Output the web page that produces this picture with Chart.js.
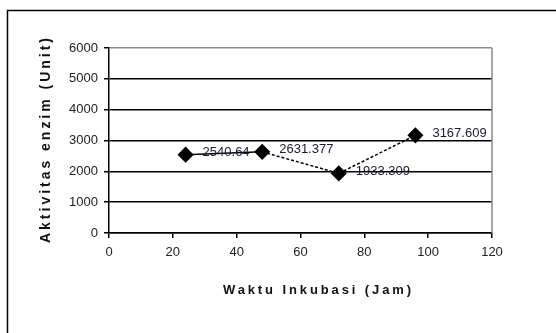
<!DOCTYPE html>
<html>
<head>
<meta charset="utf-8">
<script src="https://cdn.jsdelivr.net/npm/chart.js@4"></script>
<style>
  html, body { margin: 0; padding: 0; background: #fff; }
  #wrap { width: 556px; height: 333px; }
</style>
</head>
<body>
<div id="wrap"><canvas id="chart" width="556" height="333"></canvas></div>
<script>
// data
const hours = [24, 48, 72, 96];
const activity = [2540.64, 2631.377, 1933.309, 3167.609];
const activityLabels = ['2540.64', '2631.377', '1933.309', '3167.609'];

const xTitle = 'Waktu Inkubasi (Jam)';
const yTitle = 'Aktivitas enzim (Unit)';

// draws text stretched to a given width with letter spacing
function spacedText(ctx, text, x, y, targetWidth) {
  ctx.letterSpacing = '0px';
  const natural = ctx.measureText(text).width;
  const extra = Math.max(0, (targetWidth - natural) / text.length);
  ctx.letterSpacing = extra + 'px';
  ctx.fillText(text, x + extra / 2, y);
  ctx.letterSpacing = '0px';
}

const framePlugin = {
  id: 'frame',
  beforeDraw(chart) {
    const ctx = chart.ctx;
    ctx.save();
    ctx.fillStyle = '#fff';
    ctx.fillRect(0, 0, chart.width, chart.height);
    ctx.strokeStyle = '#000';
    ctx.lineWidth = 1.5;
    ctx.strokeRect(7.5, 10.5, 600, 400);
    ctx.restore();
  },
  afterDraw(chart) {
    const ctx = chart.ctx;
    const area = chart.chartArea;
    ctx.save();
    // grey plot border on the right
    ctx.strokeStyle = '#8a8a8a';
    ctx.lineWidth = 1.5;
    ctx.beginPath();
    ctx.moveTo(area.right, area.top);
    ctx.lineTo(area.right, area.bottom);
    ctx.stroke();

    // axis titles
    ctx.fillStyle = '#111';
    ctx.textAlign = 'center';
    ctx.textBaseline = 'middle';
    ctx.font = 'bold 13px "Liberation Sans", Arial, sans-serif';
    spacedText(ctx, xTitle, 317, 290, 191);

    ctx.translate(46, (area.top + area.bottom) / 2);
    ctx.rotate(-Math.PI / 2);
    ctx.font = 'bold 14px "Liberation Sans", Arial, sans-serif';
    spacedText(ctx, yTitle, 0, 0, 208);
    ctx.restore();
  }
};

const labelPlugin = {
  id: 'pointLabels',
  afterDatasetsDraw(chart) {
    const ctx = chart.ctx;
    const meta = chart.getDatasetMeta(0);
    ctx.save();
    ctx.font = '13px "Liberation Sans", Arial, sans-serif';
    ctx.fillStyle = '#1a1a33';
    ctx.textAlign = 'left';
    ctx.textBaseline = 'middle';
    meta.data.forEach((pt, i) => {
      ctx.fillText(activityLabels[i], pt.x + 17, pt.y - 2);
    });
    ctx.restore();
  }
};

const tickFont = { family: '"Liberation Sans", Arial, sans-serif', size: 13 };

new Chart(document.getElementById('chart'), {
  type: 'scatter',
  data: {
    datasets: [{
      data: hours.map((h, i) => ({ x: h, y: activity[i] })),
      showLine: true,
      borderColor: '#000',
      borderWidth: 1.5,
      pointStyle: 'rectRot',
      pointRadius: 7,
      pointBackgroundColor: '#000',
      pointBorderColor: '#000',
      segment: {
        borderDash: ctx => ctx.p0DataIndex === 0 ? [] : [3, 2]
      }
    }]
  },
  options: {
    responsive: false,
    animation: false,
    layout: { padding: { left: 0, top: 48, right: 64, bottom: 0 } },
    plugins: { legend: { display: false }, tooltip: { enabled: false } },
    scales: {
      x: {
        type: 'linear',
        min: 0,
        max: 120,
        ticks: {
          stepSize: 20,
          color: '#222',
          padding: 7,
          font: tickFont
        },
        grid: { drawOnChartArea: false, tickLength: 5, color: '#000', lineWidth: 1.5 },
        border: { color: '#000', width: 1.5 },
        afterFit: scale => { scale.height = 100; }
      },
      y: {
        min: 0,
        max: 6000,
        ticks: {
          stepSize: 1000,
          color: '#222',
          padding: 6,
          font: tickFont,
          callback: v => String(v)
        },
        grid: {
          color: c => c.tick && c.tick.value === 6000 ? '#8a8a8a' : '#000',
          tickColor: '#000',
          lineWidth: 1.5,
          tickLength: 5
        },
        border: { color: '#000', width: 1.5 },
        afterFit: scale => { scale.width = 109; }
      }
    }
  },
  plugins: [framePlugin, labelPlugin]
});
</script>
</body>
</html>
